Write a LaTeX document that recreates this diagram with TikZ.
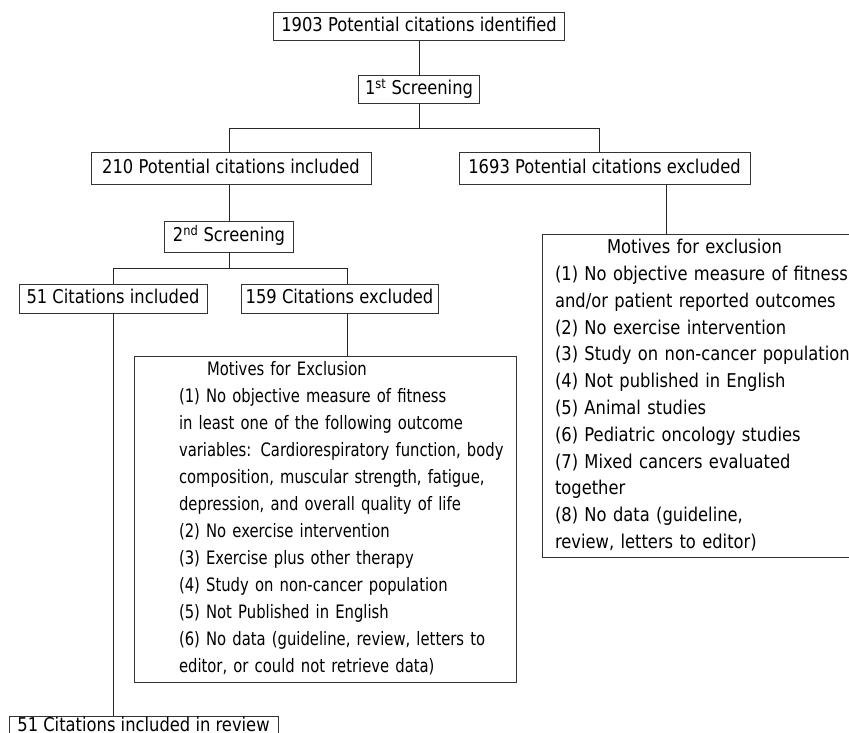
\documentclass[tikz,border=0pt]{standalone}
\usepackage{fontspec}
\setmainfont[FakeStretch=0.86]{DejaVu Sans}
\newfontfamily\motivesfont[FakeStretch=0.8]{DejaVu Sans}
\usetikzlibrary{positioning}
\begin{document}
\begin{tikzpicture}[
    x=1pt, y=1pt,
    font=\fontsize{19pt}{27pt}\selectfont,
    box/.style={rectangle, draw=black!80, line width=1pt, inner sep=0pt, outer sep=0pt, minimum height=29pt, text height=14pt, text depth=4pt},
    motives/.style={rectangle, draw=black!80, line width=1pt, inner xsep=0pt, inner ysep=1pt, outer sep=0pt, anchor=north west, align=left},
    link/.style={draw=black!85, line width=1pt}
]
\useasboundingbox (0,0) rectangle (849,-733);

% First screening
\node[box, minimum width=291pt, minimum height=28pt] (found) at (419,-27) {1903 Potential citations identified};
\node[box, minimum width=121pt, minimum height=28pt, below=35pt of found] (scr1) {1\textsuperscript{st} Screening};
\node[box, minimum width=280pt, minimum height=32pt, below=49pt of scr1, xshift=-188pt] (incl1) {210 Potential citations included};
\node[box, minimum width=291pt, minimum height=32pt, below=49pt of scr1, xshift=185.5pt] (excl1) {1693 Potential citations excluded};

% Second screening
\node[box, minimum width=129pt, minimum height=31pt, below=36pt of incl1, xshift=-2pt] (scr2) {2\textsuperscript{nd} Screening};
\node[box, minimum width=188pt, below=32pt of scr2, xshift=-116pt] (incl2) {51 Citations included};
\node[box, minimum width=197pt, below=32pt of scr2, xshift=110.5pt] (excl2) {159 Citations excluded};

% Reasons for exclusion
\node[motives, text width=382pt, font=\motivesfont\fontsize{18.5pt}{27pt}\selectfont, below=43pt of excl2.south west, anchor=north west, xshift=-107pt] (motL) {%
  \noindent\begin{tabular}{@{\hspace{45pt}}l@{}}
  \hspace*{28pt}Motives for Exclusion\\
  (1) No objective measure of fitness\\
  in least one of the following outcome\\
  variables: Cardiorespiratory function, body\\
  composition, muscular strength, fatigue,\\
  depression, and overall quality of life\\
  (2) No exercise intervention\\
  (3) Exercise plus other therapy\\
  (4) Study on non-cancer population\\
  (5) Not Published in English\\
  (6) No data (guideline, review, letters to\\
  editor, or could not retrieve data)
  \end{tabular}};
\node[motives, text width=340pt, font=\fontsize{19pt}{26.8pt}\selectfont, below=49pt of excl1.south west, anchor=north west, xshift=83pt] (motR) {%
  \noindent\begin{tabular}{@{\hspace{13pt}}l@{}}
  \hspace*{52pt}Motives for exclusion\\
  (1) No objective measure of fitness\\
  and/or patient reported outcomes\\
  (2) No exercise intervention\\
  (3) Study on non-cancer population\\
  (4) Not published in English\\
  (5) Animal studies\\
  (6) Pediatric oncology studies\\
  (7) Mixed cancers evaluated\\
  together\\
  (8) No data (guideline,\\
  review, letters to editor)
  \end{tabular}};

% Final
\node[box, minimum width=269pt, minimum height=21pt, below=403pt of incl2.south west, anchor=north west, xshift=-10pt] (final) {51 Citations included in review};

% Connectors
\coordinate[below=25pt of scr1] (fork1);
\coordinate[below=16pt of scr2] (fork2);
\draw[link] (found) -- (scr1);
\draw[link] (scr1) -- (fork1);
\draw[link] (fork1) -| ([xshift=-2pt]incl1.north);
\draw[link] (fork1) -| ([xshift=-5.5pt]excl1.north);
\draw[link] (scr2.north |- incl1.south) -- (scr2);
\draw[link] (scr2) -- (fork2);
\draw[link] (fork2) -| (incl2);
\draw[link] (fork2) -| ([xshift=7.5pt]excl2.north);
\draw[link] ([xshift=7.5pt]excl2.south) -- ([xshift=7.5pt]excl2.south |- motL.north);
\draw[link] ([xshift=61.5pt]excl1.south) -- ([xshift=61.5pt]excl1.south |- motR.north);
\draw[link] (incl2) -- (final.north -| incl2);

\end{tikzpicture}
\end{document}
